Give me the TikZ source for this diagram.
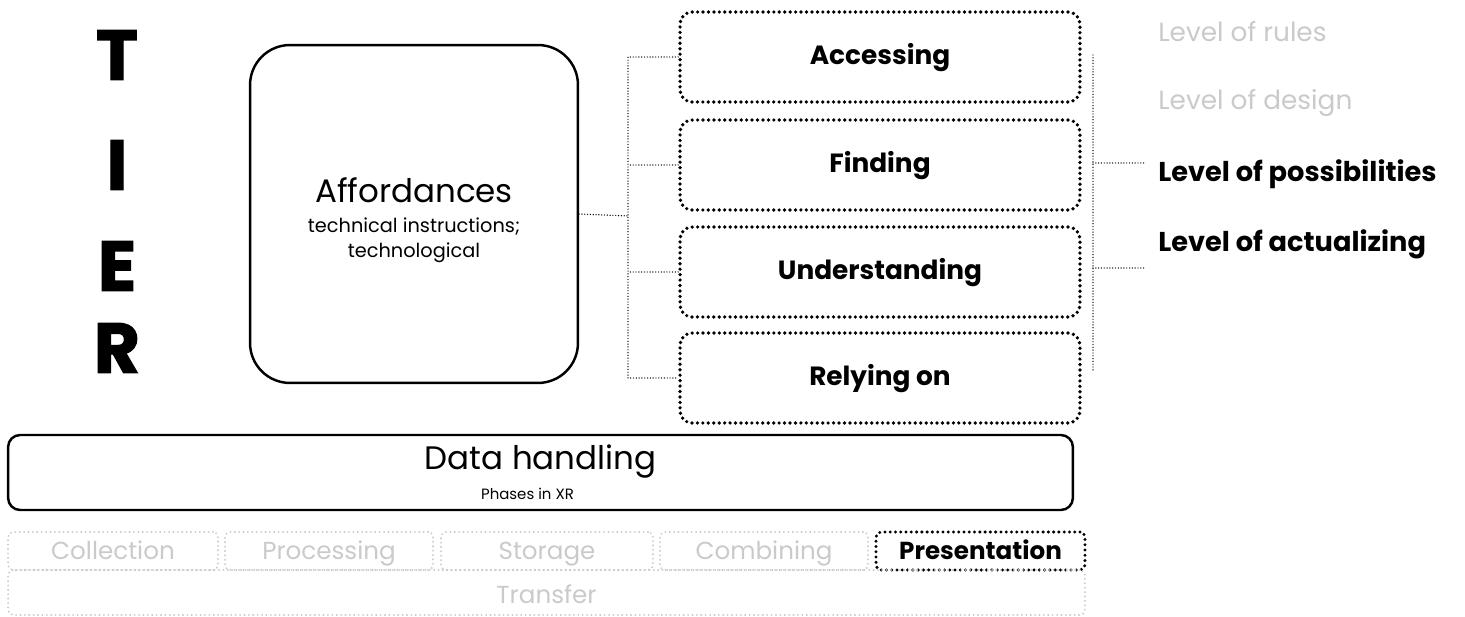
\documentclass[tikz,border=0pt]{standalone}
\usepackage{fontspec}
\setmainfont{Poppins}
\newfontfamily\tierfont[BoldFeatures={FakeBold=2}]{Poppins}
\usetikzlibrary{positioning}
\definecolor{faint}{HTML}{CACACA}
\newcommand{\tierletter}[1]{{\tierfont\fontsize{40}{40}\selectfont\bfseries #1}}

\begin{document}
\begin{tikzpicture}[x=0.02cm,y=-0.02cm,
   affbox/.style={draw,line width=1.4pt,rounded corners=0.8cm,
                  minimum width=6.56cm,minimum height=6.76cm},
   actbox/.style={draw,line width=2.1pt,dash pattern=on 0pt off 3.1pt,line cap=round,
                  rounded corners=0.24cm,minimum width=8cm,minimum height=1.8cm,
                  text height=1.0em,text depth=0.1em,
                  font=\fontsize{15}{17}\selectfont\bfseries},
   databox/.style={draw,line width=1.4pt,rounded corners=0.24cm,
                   minimum width=21.3cm,minimum height=1.5cm},
   phasebox/.style={draw=faint,text=faint,line width=1.2pt,dash pattern=on 0pt off 2.5pt,
                    line cap=round,rounded corners=0.1cm,minimum height=0.76cm,
                    text height=1.04em,text depth=0.12em,
                    font=\fontsize{14}{15}\selectfont},
   conn/.style={line width=0.8pt,dash pattern=on 0pt off 1.6pt,line cap=round},
   lvl/.style={anchor=west,inner sep=0pt,font=\fontsize{15}{17}\selectfont}]
   \useasboundingbox (0,0) rectangle (1465,617);

   % tier letters
   \node (t) at (117, 55) {\tierletter{T}};
   \node (i) at (117,165) {\tierletter{I}};
   \node (e) at (117,266) {\tierletter{E}};
   \node (r) at (117,348) {\tierletter{R}};

   % affordances and its four acts
   \node[affbox] (aff) at (414,214) {};
   \node[align=center] (afft) at (414,220)
    {{\fontsize{18.5}{20}\selectfont Affordances}\\[5pt]
     {\fontsize{11}{13}\selectfont technical instructions;}\\[2pt]
     {\fontsize{11}{13}\selectfont technological}};
   \node[actbox] (acc) at (880, 57) {Accessing};
   \node[actbox] (fin) at (880,165) {Finding};
   \node[actbox] (und) at (880,272) {Understanding};
   \node[actbox] (rel) at (880,378) {Relying on};

   \coordinate (lbus) at (628,216);
   \draw[conn] (aff.east) -- (lbus);
   \draw[conn] (acc.west) -- (acc.west -| lbus) -- (rel.west -| lbus) -- (rel.west);
   \draw[conn] (fin.west) -- (fin.west -| lbus);
   \draw[conn] (und.west) -- (und.west -| lbus);

   % levels
   \node[lvl,text=faint] (lrul) at (1158, 32) {Level of rules};
   \node[lvl,text=faint] (ldes) at (1158,103) {Level of design};
   \node[lvl,font=\fontsize{15.5}{17}\selectfont\bfseries] (lpos) at (1158,174) {Level of possibilities};
   \node[lvl,font=\fontsize{15.5}{17}\selectfont\bfseries] (lact) at (1158,244) {Level of actualizing};

   \coordinate (rtop) at (1093, 55);
   \coordinate (rbot) at (1093,372);
   \coordinate (rpos) at (1093,163);
   \coordinate (ract) at (1093,268);
   \coordinate (epos) at (1145,163);
   \coordinate (eact) at (1145,268);
   \draw[conn] (rtop) -- (rbot);
   \draw[conn] (rpos) -- (epos);
   \draw[conn] (ract) -- (eact);

   % data handling
   \node[databox] (dat) at (540.5,472.5) {};
   \node (dath) at (540.5,462) {\fontsize{18.5}{20}\selectfont Data handling};
   \node (datp) at (527.5,494) {\fontsize{8.5}{10}\selectfont Phases in XR};

   % phases
   \node[phasebox,minimum width=4.2cm]  (col) at (113,  551) {Collection};
   \node[phasebox,minimum width=4.16cm] (pro) at (329,  551) {Processing};
   \node[phasebox,minimum width=4.24cm] (sto) at (547,  551) {Storage};
   \node[phasebox,minimum width=4.16cm] (com) at (764,  551) {Combining};
   \node[phasebox,minimum width=4.18cm,draw=black,text=black,line width=1.9pt,
         dash pattern=on 0pt off 3pt,font=\fontsize{14}{15}\selectfont\bfseries]
         (pre) at (980.5,551) {Presentation};
   \node[phasebox,minimum width=21.54cm,minimum height=0.9cm,text height=1.4em]
         (tra) at (546.5,592.5) {Transfer};
\end{tikzpicture}
\end{document}
